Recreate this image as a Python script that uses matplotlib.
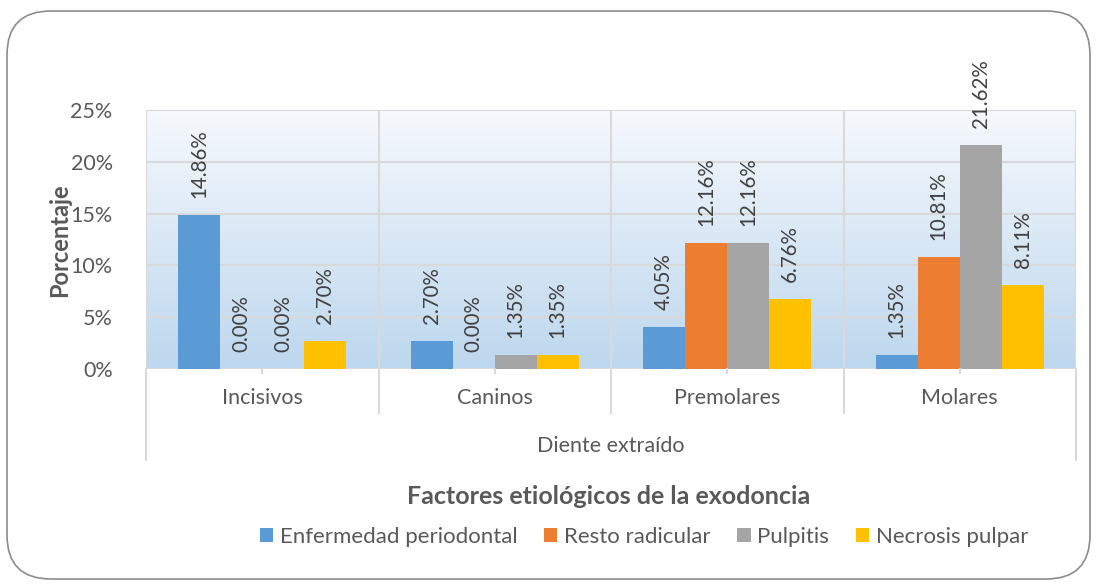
import numpy as np
import matplotlib.pyplot as plt
from matplotlib.patches import FancyBboxPatch
import matplotlib.transforms as mtransforms

plt.rcParams['font.family'] = ['Lato', 'DejaVu Sans']

categorias = ["Incisivos", "Caninos", "Premolares", "Molares"]
series = ["Enfermedad periodontal", "Resto radicular", "Pulpitis", "Necrosis pulpar"]
enfermedad = [14.86, 2.70, 4.05, 1.35]
resto = [0.00, 0.00, 12.16, 10.81]
pulpitis = [0.00, 1.35, 12.16, 21.62]
necrosis = [2.70, 1.35, 6.76, 8.11]
colores = ["#5B9BD5", "#ED7D31", "#A5A5A5", "#FFC000"]
yticks = [0, 5, 10, 15, 20, 25]

gris = "#595959"
fig = plt.figure(figsize=(10.97, 5.85), dpi=100)

# marco redondeado
marco = FancyBboxPatch((7 / 1097, 6 / 585), 1083 / 1097, 568 / 585,
                       boxstyle="round,pad=0,rounding_size=0.04",
                       transform=fig.transFigure, facecolor="white",
                       edgecolor="#8C8C8C", linewidth=1.2, mutation_aspect=1097 / 585,
                       zorder=-5)
fig.patches.append(marco)

ax = fig.add_axes([146 / 1097, 1 - 369 / 585, 930 / 1097, 259 / 585])
ax.patch.set_alpha(0)
ax.set_xlim(-0.5, 3.5)
ax.set_ylim(0, 25)

# fondo degradado
grad = np.linspace(0, 1, 256).reshape(-1, 1)
top = np.array([0.965, 0.976, 0.992])
bot = np.array([0.741, 0.843, 0.933])
img = top + (bot - top) * grad[:, :, None] * np.ones((1, 1, 3))
ax.imshow(img, extent=[-0.5, 3.5, 0, 25], aspect="auto", zorder=0, origin="upper")

grid_c = "#D9D9D9"
for y in yticks:
    ax.axhline(y, color=grid_c, lw=1.5, zorder=1)
for xb in [-0.5, 0.5, 1.5, 2.5, 3.5]:
    ax.axvline(xb, color=grid_c, lw=1.5, zorder=1)

ancho = 0.181
datos = [enfermedad, resto, pulpitis, necrosis]
x = np.arange(len(categorias))
for i, (vals, nombre, col) in enumerate(zip(datos, series, colores)):
    pos = x + (i - 1.5) * ancho
    ax.bar(pos, vals, width=ancho, color=col, label=nombre, zorder=2)
    for px, v in zip(pos, vals):
        ax.annotate(f"{v:.2f}%", (px, v), xytext=(0, 12), textcoords="offset points",
                    rotation=90, ha="center", va="bottom", fontsize=14.8, color="#404040",
                    annotation_clip=False)

for s in ax.spines.values():
    s.set_visible(False)
ax.set_xticks([])
ax.set_yticks(yticks)
ax.set_yticklabels([f"{t}%" for t in yticks], fontsize=15.5, color=gris)
ax.tick_params(axis="y", length=0, pad=24)

# eje de categorias multinivel
trans = mtransforms.blended_transform_factory(ax.transData, ax.transAxes)
for xb in [0.5, 1.5, 2.5]:
    ax.plot([xb, xb], [0, -0.170], color=grid_c, lw=1.5, transform=trans, clip_on=False)
for xb in [-0.5, 3.5]:
    ax.plot([xb, xb], [0, -0.351], color=grid_c, lw=1.5, transform=trans, clip_on=False)
for xc in x:
    ax.plot([xc, xc], [0, -0.016], color=grid_c, lw=1.5, transform=trans, clip_on=False)
for xc, c in zip(x, categorias):
    ax.text(xc, -0.112, c, transform=trans, ha="center", va="center", fontsize=15.5, color=gris)
ax.text(1.5, -0.297, "Diente extraído", transform=trans, ha="center", va="center",
        fontsize=15.5, color=gris)

fig.text(60 / 1097, 1 - 240 / 585, "Porcentaje", rotation=90, ha="center", va="center",
         fontsize=17, fontweight="bold", color=gris)
fig.text(609 / 1097, 1 - 497 / 585, "Factores etiológicos de la exodoncia", ha="center",
         va="center", fontsize=18, fontweight="bold", color=gris)

fig.legend(loc="center", bbox_to_anchor=(644 / 1097, 1 - 537 / 585), ncol=4, frameon=False,
           fontsize=16, labelcolor=gris, handlelength=0.6, handleheight=0.6,
           handletextpad=0.3, columnspacing=1.2)

fig.savefig("out.png", dpi=100)
